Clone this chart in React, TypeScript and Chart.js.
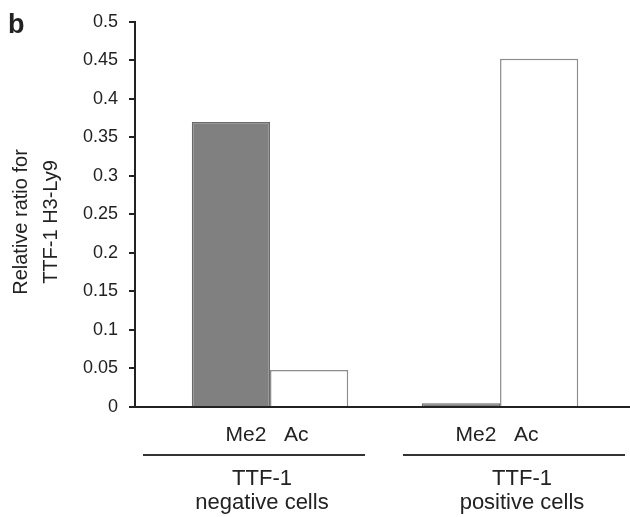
import React, { useEffect, useRef } from "react";
import { Chart, registerables } from "chart.js";

Chart.register(...registerables);

const groupNames: string[][] = [["TTF-1", "negative cells"], ["TTF-1", "positive cells"]];
const groupPositions: number[] = [1, 2];
const seriesNames: string[] = ["Me2", "Ac"];
const me2Values: number[] = [0.37, 0.005];
const acValues: number[] = [0.048, 0.452];
const yTickStep = 0.05;
const yMin = 0;
const yMax = 0.5;
const yTitleLines: string[] = ["Relative ratio for", "TTF-1 H3-Ly9"];
const panelLetter = "b";

const FONT = "'Liberation Sans', Arial, sans-serif";
const INK = "#222";

const labelsPlugin = {
  id: "customLabels",
  afterDraw(chart: any) {
    const ctx = chart.ctx;
    const xs = chart.scales.x;
    const area = chart.chartArea;
    ctx.save();
    ctx.fillStyle = INK;
    // panel letter
    ctx.font = `bold 27px ${FONT}`;
    ctx.textAlign = "left";
    ctx.textBaseline = "alphabetic";
    ctx.fillText(panelLetter, 8, 33);
    // y title
    ctx.font = `20px ${FONT}`;
    ctx.textAlign = "center";
    const titleX = [27, 57];
    yTitleLines.forEach((t, i) => {
      ctx.save();
      ctx.translate(titleX[i], 222);
      ctx.rotate(-Math.PI / 2);
      ctx.fillText(t, 0, 0);
      ctx.restore();
    });
    // separator lines: left group anchored near the axis, right group near the right edge
    const lineSpans = [
      [area.left + 8, area.left + 230],
      [area.right - 227, area.right - 5],
    ];
    groupPositions.forEach((p, i) => {
      const cx = xs.getPixelForValue(p);
      ctx.font = `21px ${FONT}`;
      ctx.textAlign = "center";
      ctx.fillText(seriesNames.join("   "), cx - 3, 441);
      const [x0, x1] = lineSpans[i];
      ctx.strokeStyle = "#333";
      ctx.lineWidth = 2;
      ctx.beginPath();
      ctx.moveTo(x0, 455);
      ctx.lineTo(x1, 455);
      ctx.stroke();
      const gc = (x0 + x1) / 2 + 8;
      ctx.font = `22px ${FONT}`;
      ctx.fillText(groupNames[i][0], gc, 485);
      ctx.fillText(groupNames[i][1], gc, 509);
    });
    ctx.restore();
  },
};

export default function App() {
  const ref = useRef<HTMLCanvasElement | null>(null);
  useEffect(() => {
    if (!ref.current) return;
    const chart = new Chart(ref.current, {
      type: "bar",
      data: {
        datasets: [
          {
            label: seriesNames[0],
            data: groupPositions.map((p, i) => ({ x: p, y: me2Values[i] })),
            backgroundColor: "#808080",
            borderColor: "#6a6a6a",
            borderWidth: 1.5,
          },
          {
            label: seriesNames[1],
            data: groupPositions.map((p, i) => ({ x: p, y: acValues[i] })),
            backgroundColor: "#ffffff",
            borderColor: "#8c8c8c",
            borderWidth: 1.5,
          },
        ],
      },
      options: {
        animation: false,
        responsive: true,
        maintainAspectRatio: false,
        layout: { padding: { top: 20, left: 0, right: 0, bottom: 0 } },
        plugins: { legend: { display: false }, tooltip: { enabled: false } },
        datasets: { bar: { categoryPercentage: 0.68, barPercentage: 1 } },
        scales: {
          x: {
            type: "linear",
            offset: false,
            min: 0.413,
            max: 2.565,
            afterBuildTicks: (s: any) => {
              s.ticks = groupPositions.map((v) => ({ value: v }));
            },
            afterFit: (s: any) => {
              s.height = 110;
            },
            ticks: { display: false },
            grid: { display: false },
            border: { display: true, color: INK, width: 2 },
          },
          y: {
            min: yMin,
            max: yMax,
            afterFit: (s: any) => {
              s.width = 135;
            },
            ticks: {
              stepSize: yTickStep,
              padding: 11,
              color: INK,
              font: { family: FONT, size: 18 },
              callback: (v: any) => String(Number(Number(v).toFixed(2))),
            },
            grid: {
              display: true,
              drawOnChartArea: false,
              drawTicks: true,
              tickLength: 6,
              color: INK,
              lineWidth: 2,
            },
            border: { display: true, color: INK, width: 2 },
          },
        },
      },
      plugins: [labelsPlugin],
    } as any);
    return () => chart.destroy();
  }, []);
  return (
    <div style={{ position: "fixed", left: 0, top: 0, width: 630, height: 517, background: "#fff" }}>
      <canvas ref={ref} />
    </div>
  );
}
